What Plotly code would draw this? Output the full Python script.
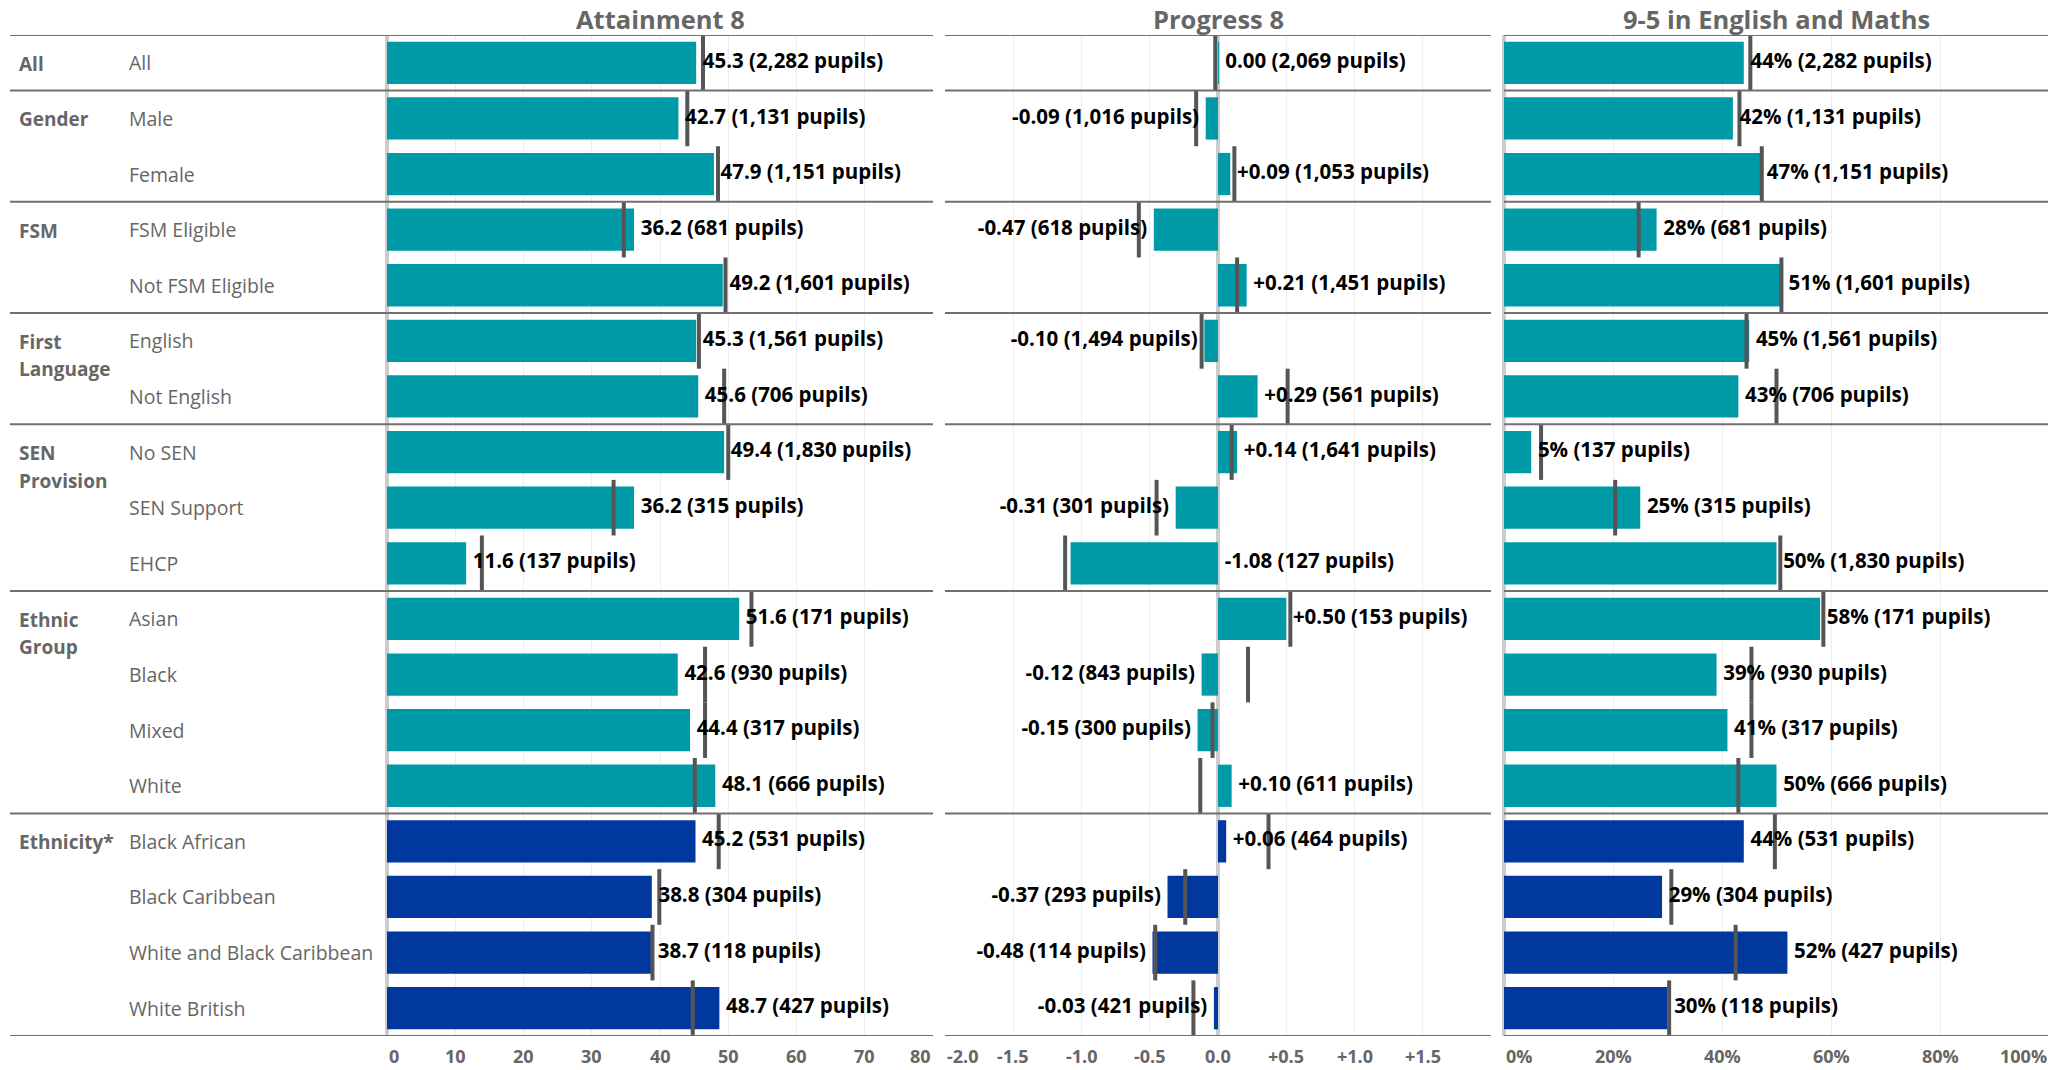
import plotly.graph_objects as go

# page / figure geometry (the page body adds an 8px margin)
PAGE_W, PAGE_H = 2056, 1070
OFF = 8
W, H = PAGE_W - OFF, PAGE_H - OFF

rows = ["All", "Male", "Female", "FSM Eligible", "Not FSM Eligible", "English", "Not English",
        "No SEN", "SEN Support", "EHCP", "Asian", "Black", "Mixed", "White",
        "Black African", "Black Caribbean", "White and Black Caribbean", "White British"]
group_labels = ["All", "Gender", "FSM", "First<br>Language", "SEN<br>Provision", "Ethnic<br>Group", "Ethnicity*"]
group_sizes = [1, 2, 2, 2, 3, 4, 4]
highlight_group = "Ethnicity*"

att8 = [45.3, 42.7, 47.9, 36.2, 49.2, 45.3, 45.6, 49.4, 36.2, 11.6, 51.6, 42.6, 44.4, 48.1, 45.2, 38.8, 38.7, 48.7]
att8_n = [2282, 1131, 1151, 681, 1601, 1561, 706, 1830, 315, 137, 171, 930, 317, 666, 531, 304, 118, 427]
att8_bench = [46.3, 44.0, 48.5, 34.7, 49.6, 45.7, 49.4, 50.0, 33.2, 13.9, 53.4, 46.6, 46.6, 45.1, 48.6, 39.9, 38.9, 44.8]

p8 = [0.004, -0.09, 0.09, -0.47, 0.21, -0.10, 0.29, 0.14, -0.31, -1.08, 0.50, -0.12, -0.15, 0.10, 0.06, -0.37, -0.48, -0.03]
p8_n = [2069, 1016, 1053, 618, 1451, 1494, 561, 1641, 301, 127, 153, 843, 300, 611, 464, 293, 114, 421]
p8_bench = [-0.02, -0.16, 0.12, -0.58, 0.14, -0.12, 0.51, 0.10, -0.45, -1.12, 0.53, 0.22, -0.04, -0.13, 0.37, -0.24, -0.46, -0.18]

em = [44, 42, 47, 28, 51, 45, 43, 5, 25, 50, 58, 39, 41, 50, 44, 29, 52, 30]
em_n = [2282, 1131, 1151, 681, 1601, 1561, 706, 137, 315, 1830, 171, 930, 317, 666, 531, 304, 427, 118]
em_bench = [45.2, 43.2, 47.3, 24.7, 50.9, 44.5, 50.0, 6.8, 20.4, 50.7, 58.6, 45.4, 45.4, 43.0, 49.7, 30.7, 42.5, 30.3]

panel_titles = ["Attainment 8", "Progress 8", "9-5 in English and Maths"]
att8_ticks = [0, 10, 20, 30, 40, 50, 60, 70, 80]
att8_ticktext = ["0", "10", "20", "30", "40", "50", "60", "70", "80"]
p8_ticks = [-2.0, -1.5, -1.0, -0.5, 0.0, 0.5, 1.0, 1.5]
p8_ticktext = ["-2.0", "-1.5", "-1.0", "-0.5", "0.0", "+0.5", "+1.0", "+1.5"]
em_ticks = [0, 20, 40, 60, 80, 100]
em_ticktext = ["0%", "20%", "40%", "60%", "80%", "100%"]

TEAL = "#009AA6"
NAVY = "#0038A0"
GREY = "#666666"
FONT = "Open Sans"

# ---- derived ----
n = len(rows)
ypos = list(range(n))
group_of_row = []
for g, s in zip(group_labels, group_sizes):
    group_of_row += [g] * s
colors = [NAVY if g == highlight_group else TEAL for g in group_of_row]


def fmt_p8(v):
    r = round(v, 2)
    if abs(r) < 0.005:
        return "0.00"
    return f"{r:+.2f}"


att8_text = [f"{v:.1f} ({c:,} pupils)" for v, c in zip(att8, att8_n)]
p8_text = [f"{fmt_p8(v)} ({c:,} pupils)" for v, c in zip(p8, p8_n)]
em_text = [f"{v}% ({c:,} pupils)" for v, c in zip(em, em_n)]


def px(p):
    return (p - OFF) / W


def py(p):
    return 1 - (p - OFF) / H


domains = [[px(387), px(933)], [px(945), px(1491)], [px(1504), px(2049)]]
ydom = [py(1036), py(35)]

fig = go.Figure()

panels = [
    ("x", att8, att8_bench, att8_text, [0, 80], att8_ticks, att8_ticktext),
    ("x2", p8, p8_bench, p8_text, [-2.0, 2.0], p8_ticks, p8_ticktext),
    ("x3", em, em_bench, em_text, [0, 100], em_ticks, em_ticktext),
]

TICK_Y = py(1056)
annotations = []
for xa, vals, bench, texts, rng, tv, tt in panels:
    fig.add_trace(go.Bar(
        x=vals, y=ypos, orientation="h", xaxis=xa, yaxis="y",
        marker=dict(color=colors, line=dict(width=0)), width=0.76,
        hoverinfo="skip", showlegend=False,
    ))
    # benchmark markers
    bx, by = [], []
    for i, b in enumerate(bench):
        bx += [b, b, None]
        by += [i - 0.5, i + 0.5, None]
    fig.add_trace(go.Scatter(
        x=bx, y=by, mode="lines", xaxis=xa, yaxis="y",
        line=dict(color="#555555", width=4), hoverinfo="skip", showlegend=False,
    ))
    # value labels: left of negative bars if there is room, otherwise right of zero
    span = rng[1] - rng[0]
    lx, pos = [], []
    for v in vals:
        if round(v, 2) < 0:
            if (v - rng[0]) / span > 0.3:
                lx.append(v)
                pos.append("middle left")
            else:
                lx.append(0)
                pos.append("middle right")
        else:
            lx.append(v)
            pos.append("middle right")
    fig.add_trace(go.Scatter(
        x=lx, y=ypos, mode="markers+text", text=texts, textposition=pos,
        marker=dict(size=9, color="rgba(0,0,0,0)"),
        xaxis=xa, yaxis="y", cliponaxis=False,
        textfont=dict(family=FONT, size=20.5, color="#000000", weight="bold"),
        hoverinfo="skip", showlegend=False,
    ))
    # tick labels (edge ones kept inside the panel)
    for v, t in zip(tv, tt):
        if v == rng[0]:
            anchor = "left"
        elif v == rng[1]:
            anchor = "right"
        else:
            anchor = "center"
        annotations.append(dict(
            text=t, xref=xa, yref="paper", x=v, y=TICK_Y,
            xanchor=anchor, yanchor="middle", showarrow=False,
            font=dict(family=FONT, size=18, color=GREY, weight="bold")))

axis_common = dict(
    showgrid=True, gridcolor="#eeeeee", gridwidth=1,
    zeroline=True, zerolinecolor="#cccccc", zerolinewidth=4,
    showline=False, showticklabels=False, ticks="",
    fixedrange=True, automargin=False, anchor="y",
)

xa_cfg = {}
for key, (xa, vals, bench, texts, rng, tv, tt), d in zip(["xaxis", "xaxis2", "xaxis3"], panels, domains):
    xa_cfg[key] = dict(domain=d, range=rng, tickvals=tv, **axis_common)

fig.update_layout(
    **xa_cfg,
    yaxis=dict(domain=ydom, range=[n - 0.5, -0.5], showticklabels=False, showgrid=False,
               zeroline=False, fixedrange=True, automargin=False),
)

# separators
bounds = [-0.5]
acc = 0
for s in group_sizes:
    acc += s
    bounds.append(acc - 0.5)
seg_x = [(px(10), domains[0][1]), tuple(domains[1]), tuple(domains[2])]
shapes = []
for b in bounds:
    for x0, x1 in seg_x:
        shapes.append(dict(type="line", xref="paper", yref="y", x0=x0, x1=x1, y0=b, y1=b,
                           line=dict(color="#707070", width=2), layer="above"))

# panel titles
for t, d in zip(panel_titles, domains):
    annotations.append(dict(text=t, xref="paper", yref="paper", x=(d[0] + d[1]) / 2, y=py(19),
                            xanchor="center", yanchor="middle", showarrow=False,
                            font=dict(family=FONT, size=25.5, color=GREY, weight="bold")))
# group labels (one annotation per line)
start = 0
for g, s in zip(group_labels, group_sizes):
    for k, line in enumerate(g.split("<br>")):
        annotations.append(dict(text=line, xref="paper", yref="y", x=px(17), y=start,
                                xanchor="left", yanchor="middle", yshift=-1 - 27.5 * k, showarrow=False,
                                font=dict(family=FONT, size=19, color=GREY, weight="bold")))
    start += s
# row labels
for i, r in enumerate(rows):
    annotations.append(dict(text=r, xref="paper", yref="y", x=px(127), y=i,
                            xanchor="left", yanchor="middle", showarrow=False,
                            font=dict(family=FONT, size=19.5, color=GREY)))

fig.update_layout(
    width=W, height=H, margin=dict(l=0, r=0, t=0, b=0, pad=0),
    paper_bgcolor="white", plot_bgcolor="white",
    shapes=shapes, annotations=annotations, barmode="overlay",
    font=dict(family=FONT),
)

fig.write_html("out.html")
